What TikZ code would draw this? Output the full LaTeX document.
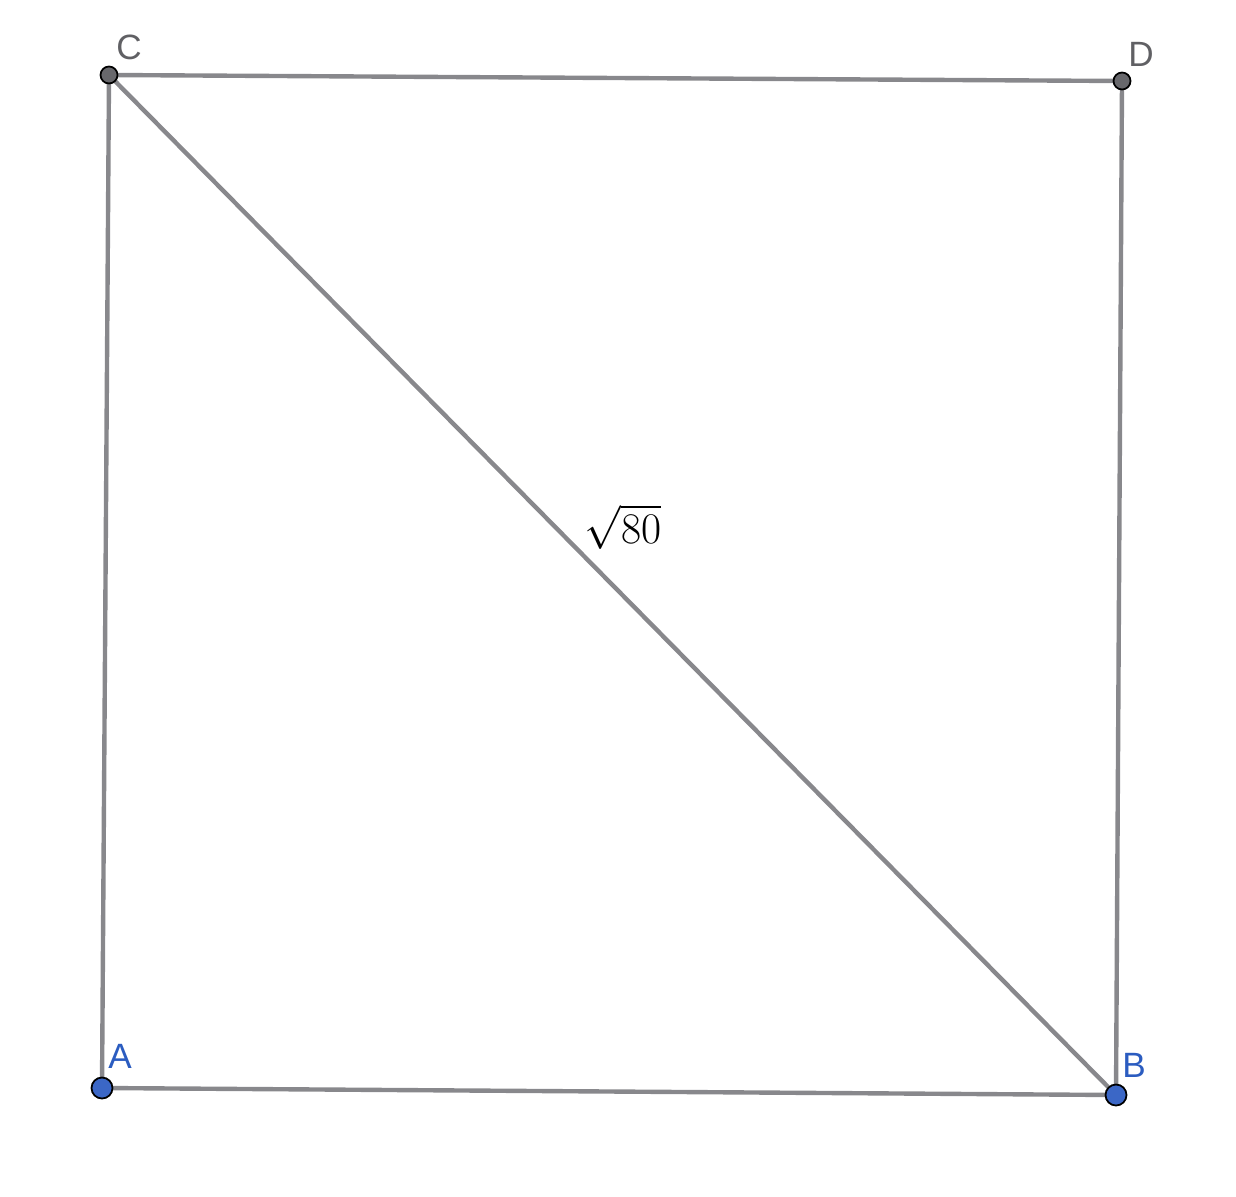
\documentclass[tikz,border=0pt]{standalone}
\usepackage{fontspec}
\newfontfamily\labelfont{Liberation Sans}
\usepackage{tikz}
\definecolor{segcol}{HTML}{88888C}
\definecolor{freept}{HTML}{3B67C6}
\definecolor{freelbl}{HTML}{2B5CC0}
\definecolor{deppt}{HTML}{68686C}
\definecolor{deplbl}{HTML}{606064}

\begin{document}
\begin{tikzpicture}[
  x={(0.02cm,0)}, y={(0,-0.02cm)},
  seg/.style={draw=segcol, line width=2.5pt},
  bpt/.style={circle, fill=freept, draw=black, line width=1pt,
    minimum size=0.42cm, inner sep=0pt},
  gpt/.style={circle, fill=deppt, draw=black, line width=1pt,
    minimum size=0.34cm, inner sep=0pt},
  blbl/.style={text=freelbl, font=\labelfont\fontsize{20}{24}\selectfont},
  glbl/.style={text=deplbl, font=\labelfont\fontsize{20}{24}\selectfont}
]
\useasboundingbox (0,0) rectangle (1236,1196);

% ---- Points ----
\coordinate (A) at (102,1088);
\coordinate (B) at (1116,1095);
\coordinate (C) at (109,75);
\coordinate (D) at (1122,81);

% ---- Sides and diagonal ----
\draw[seg] (A) -- (B) -- (D) -- (C) -- cycle;
\draw[seg] (C) -- (B);

% ---- Markers ----
\node[bpt] (pA) at (A) {};
\node[bpt] (pB) at (B) {};
\node[gpt] (pC) at (C) {};
\node[gpt] (pD) at (D) {};

% ---- Labels ----
\node[blbl] (lA) at (120,1056) {A};
\node[blbl] (lB) at (1134,1065) {B};
\node[glbl] (lC) at (129,47) {C};
\node[glbl] (lD) at (1141,54) {D};
\node[font=\fontsize{25}{30}\selectfont] (diag) at (623,527) {$\sqrt{80}$};

\end{tikzpicture}
\end{document}
